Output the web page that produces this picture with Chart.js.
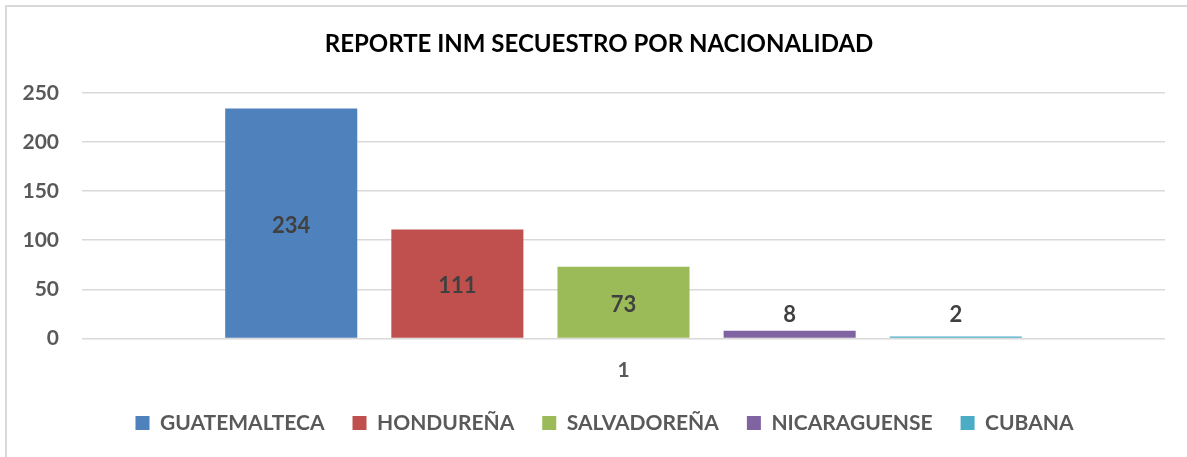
<!DOCTYPE html>
<html>
<head>
<meta charset="utf-8">
<script src="https://cdn.jsdelivr.net/npm/chart.js@4.4.0/dist/chart.umd.min.js"></script>
<style>
  html, body { margin: 0; padding: 0; background: #fff; }
  #wrap { position: relative; width: 1187px; height: 457px; }
  #frame { position: absolute; left: 5px; top: 5px; right: 0; bottom: 0; border-left: 2px solid #d9d9d9; border-top: 2px solid #d9d9d9; }
  canvas { position: absolute; left: 0; top: 0; }
</style>
</head>
<body>
<div id="wrap">
  <div id="frame"></div>
  <canvas id="c" width="1187" height="457"></canvas>
</div>
<script>
const categories = ["1"];
const seriesNames = ["GUATEMALTECA", "HONDUREÑA", "SALVADOREÑA", "NICARAGUENSE", "CUBANA"];
const seriesValues = [234, 111, 73, 8, 2];
const seriesColors = ["#4F81BD", "#C0504D", "#9BBB59", "#8064A2", "#4BACC6"];
const yTicks = [0, 50, 100, 150, 200, 250];
const titleText = "REPORTE INM SECUESTRO POR NACIONALIDAD";

const FONT = "Lato, 'Open Sans', sans-serif";

const valueLabels = {
  id: 'valueLabels',
  afterDatasetsDraw(chart) {
    const ctx = chart.ctx;
    const base = chart.scales.y.getPixelForValue(0);
    ctx.save();
    ctx.font = "bold 22px " + FONT;
    ctx.fillStyle = "#404040";
    ctx.textAlign = "center";
    ctx.textBaseline = "middle";
    chart.data.datasets.forEach((ds, i) => {
      const meta = chart.getDatasetMeta(i);
      meta.data.forEach((bar, j) => {
        const v = ds.data[j];
        const center = (bar.y + base) / 2 + 2;
        const y = Math.min(center, base - 24);
        ctx.fillText(String(v), bar.x, y);
      });
    });
    ctx.restore();
  }
};

// Excel centres title and legend slightly right of the canvas centre
const boxShift = {
  id: 'boxShift',
  afterLayout(chart) {
    if (chart.titleBlock) { chart.titleBlock.left += 16.5; chart.titleBlock.right += 16.5; }
    if (chart.legend) { chart.legend.left += 22; chart.legend.right += 22; }
  }
};

new Chart(document.getElementById('c'), {
  type: 'bar',
  data: {
    labels: categories,
    datasets: seriesNames.map((n, i) => ({
      label: n,
      data: [seriesValues[i]],
      backgroundColor: seriesColors[i],
      borderWidth: 0,
      barPercentage: 0.795,
      categoryPercentage: 0.767
    }))
  },
  options: {
    responsive: false,
    animation: false,
    devicePixelRatio: 1,
    layout: { padding: { left: 0, right: 22, top: 0, bottom: 13.5 } },
    plugins: {
      title: {
        display: true,
        text: titleText,
        color: "#000",
        font: { family: FONT, size: 24, weight: 'bold' },
        padding: { top: 30, bottom: 34 }
      },
      legend: {
        position: 'bottom',
        labels: {
          boxWidth: 14,
          boxHeight: 14,
          color: "#595959",
          padding: 28,
          font: { family: FONT, size: 21, weight: 'bold' }
        }
      },
      tooltip: { enabled: false }
    },
    scales: {
      x: {
        grid: { display: false, drawTicks: false },
        border: { display: false },
        ticks: { color: "#595959", font: { family: FONT, size: 21, weight: 'bold' }, padding: 19 },
        afterFit(s) { s.height = 46; }
      },
      y: {
        min: 0, max: 250,
        afterBuildTicks(s) { s.ticks = yTicks.map(v => ({ value: v })); },
        grid: { color: "#d9d9d9", lineWidth: 1.5, drawTicks: false },
        border: { display: false },
        ticks: { color: "#595959", font: { family: FONT, size: 21, weight: 'bold' }, padding: 23 },
        afterFit(s) { s.width = 82; }
      }
    }
  },
  plugins: [valueLabels, boxShift]
});
</script>
</body>
</html>
